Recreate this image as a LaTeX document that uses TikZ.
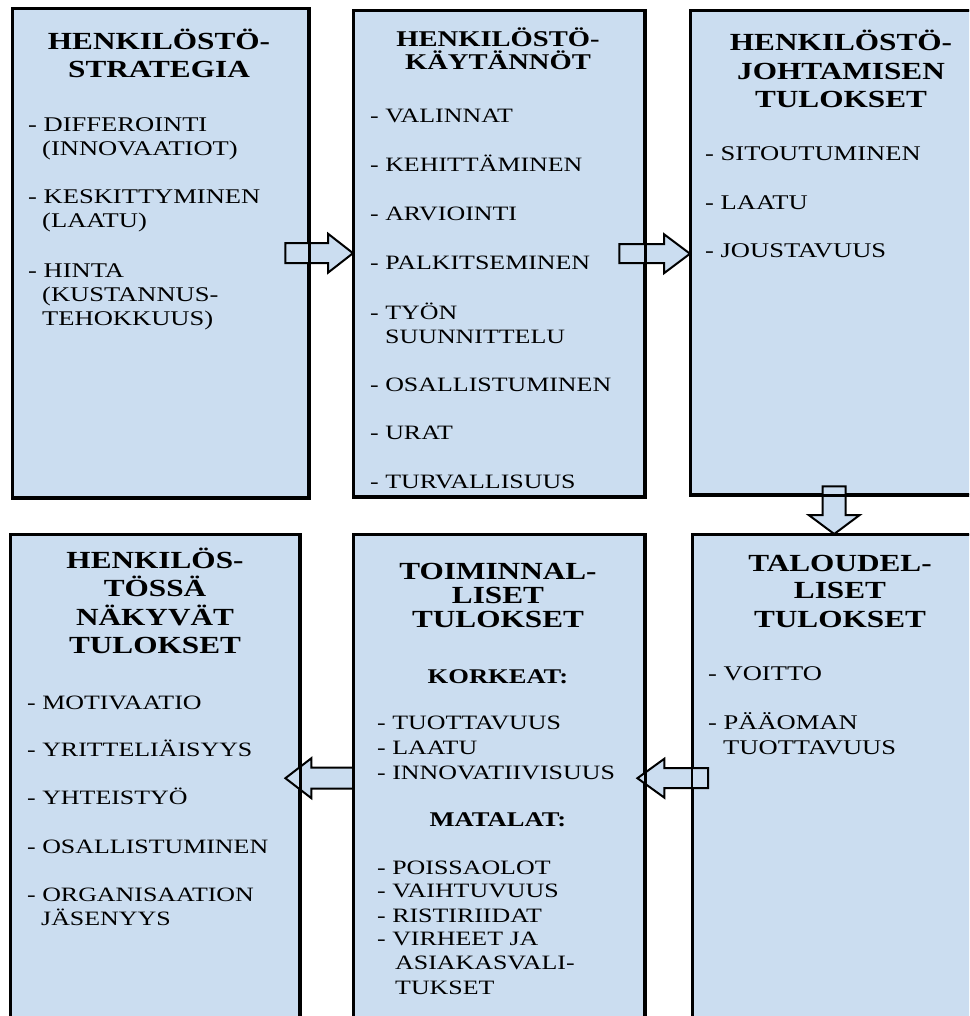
\documentclass[tikz,border=0pt]{standalone}
\usepackage{fontspec}
\setmainfont{Liberation Serif}[FakeStretch=1.27]
\usetikzlibrary{calc}

\definecolor{boxfill}{RGB}{203,221,240}

\tikzset{
  box/.style={draw=black, line width=2.4pt, fill=boxfill, inner sep=0pt, anchor=north west},
  border/.style={draw=black, line width=2.4pt},
  arrowbody/.style={draw=black, line width=2pt, fill=boxfill, line join=miter},
  title/.style={anchor=base, inner sep=0pt, font=\bfseries\fontsize{24.6}{28}\selectfont},
  smalltitle/.style={anchor=base, inner sep=0pt, font=\bfseries\fontsize{22.5}{26}\selectfont},
  subhead/.style={anchor=base, inner sep=0pt, font=\bfseries\fontsize{20.9}{24}\selectfont},
  body/.style={anchor=base west, inner sep=0pt, font=\fontsize{20.9}{24}\selectfont},
  smallbody/.style={anchor=base west, inner sep=0pt, font=\fontsize{20.4}{24}\selectfont},
}

% block arrow: start, tip, shaft half-width, head half-width, head length
\newcommand\blockarrow[5]{%
  \coordinate (ba-s) at (#1);
  \coordinate (ba-e) at (#2);
  \coordinate (ba-h) at ($(ba-e)!#5!(ba-s)$);
  \draw[arrowbody]
    ($(ba-s)!#3!90:(ba-e)$) -- ($(ba-h)!#3!90:(ba-e)$) --
    ($(ba-h)!#4!90:(ba-e)$) -- (ba-e) --
    ($(ba-h)!#4!-90:(ba-e)$) -- ($(ba-h)!#3!-90:(ba-e)$) --
    ($(ba-s)!#3!-90:(ba-e)$) -- cycle;
}

\begin{document}
\begin{tikzpicture}[x=1pt, y=-1pt]
\useasboundingbox (0,0) rectangle (969,1016);
\clip (0,0) rectangle (969,1016);

% boxes
\node[box, minimum width=295pt, minimum height=488pt] (b1) at (12,8) {};
\node[box, minimum width=290pt, minimum height=485pt] (b2) at (353,10) {};
\node[box, minimum width=300pt, minimum height=483pt] (b3) at (690,10) {};
\node[box, minimum width=288pt, minimum height=486pt] (b4) at (10,534) {};
\node[box, minimum width=290pt, minimum height=486pt] (b5) at (353,534) {};
\node[box, minimum width=298pt, minimum height=486pt] (b6) at (692,534) {};

% block arrows between the boxes
\blockarrow{[xshift=-24pt]b1.east}{b2.west |- b1.east}{10pt}{19.5pt}{25pt}
\blockarrow{[xshift=-26pt]b2.east}{b3.west |- b2.east}{9.5pt}{19.5pt}{26pt}
\coordinate (a3s) at ([shift={(-7pt,9pt)}]b3.south);
\blockarrow{a3s}{a3s |- b6.north}{11.5pt}{25.5pt}{19pt}
\blockarrow{[xshift=16pt]b6.west}{[xshift=-8pt]b5.east}{10pt}{19.5pt}{27pt}
\blockarrow{b5.west}{[xshift=-15pt]b4.east}{10.5pt}{20pt}{26pt}

% box outlines stay on top of the arrows
\foreach \b in {b1,b2,b3,b4,b5,b6}
  \draw[border] (\b.south west) rectangle (\b.north east);

% box 1
\node[title] (b1h1) at (159,50) {HENKILÖSTÖ-};
\node[title] (b1h2) at (159,78) {STRATEGIA};
\foreach \xx/\yy/\txt [count=\i] in {
  28/132/- DIFFEROINTI, 42/156/(INNOVAATIOT),
  28/204/- KESKITTYMINEN, 42/228/(LAATU),
  28/277/- HINTA, 42/301/(KUSTANNUS-, 42/325/TEHOKKUUS)}
  \node[body] (b1t\i) at (\xx,\yy) {\txt};

% box 2
\node[smalltitle] (b2h1) at (498,47) {HENKILÖSTÖ-};
\node[smalltitle] (b2h2) at (498,70) {KÄYTÄNNÖT};
\foreach \xx/\yy/\txt [count=\i] in {
  370/123/- VALINNAT, 370/172/- KEHITTÄMINEN, 370/221/- ARVIOINTI,
  370/269/- PALKITSEMINEN, 370/319/- TYÖN, 385/343/SUUNNITTELU,
  370/391/- OSALLISTUMINEN, 370/439/- URAT, 370/488/- TURVALLISUUS}
  \node[smallbody] (b2t\i) at (\xx,\yy) {\txt};

% box 3
\node[title] (b3h1) at (841,51) {HENKILÖSTÖ-};
\node[title] (b3h2) at (841,80) {JOHTAMISEN};
\node[title] (b3h3) at (841,108) {TULOKSET};
\foreach \xx/\yy/\txt [count=\i] in {
  705/161/- SITOUTUMINEN, 705/210/- LAATU, 705/258/- JOUSTAVUUS}
  \node[body] (b3t\i) at (\xx,\yy) {\txt};

% box 4
\node[title] (b4h1) at (155,568) {HENKILÖS-};
\node[title] (b4h2) at (155,596) {TÖSSÄ};
\node[title] (b4h3) at (155,625) {NÄKYVÄT};
\node[title] (b4h4) at (155,653) {TULOKSET};
\foreach \xx/\yy/\txt [count=\i] in {
  27/709/- MOTIVAATIO, 27/756/- YRITTELIÄISYYS, 27/804/- YHTEISTYÖ,
  27/853/- OSALLISTUMINEN, 27/901/- ORGANISAATION, 41/925/JÄSENYYS}
  \node[smallbody] (b4t\i) at (\xx,\yy) {\txt};

% box 5
\node[title] (b5h1) at (498,579) {TOIMINNAL-};
\node[title] (b5h2) at (498,603) {LISET};
\node[title] (b5h3) at (498,627) {TULOKSET};
\node[subhead] (b5s1) at (498,683) {KORKEAT:};
\node[subhead] (b5s2) at (498,826) {MATALAT:};
\foreach \xx/\yy/\txt [count=\i] in {
  377/729/- TUOTTAVUUS, 377/754/- LAATU, 377/779/- INNOVATIIVISUUS,
  377/874/- POISSAOLOT, 377/897/- VAIHTUVUUS, 377/922/- RISTIRIIDAT,
  377/945/- VIRHEET JA, 395/969/ASIAKASVALI-, 395/994/TUKSET}
  \node[smallbody] (b5t\i) at (\xx,\yy) {\txt};

% box 6
\node[title] (b6h1) at (840,571) {TALOUDEL-};
\node[title] (b6h2) at (840,598) {LISET};
\node[title] (b6h3) at (840,627) {TULOKSET};
\foreach \xx/\yy/\txt [count=\i] in {
  708/680/- VOITTO, 708/729/- PÄÄOMAN, 723/754/TUOTTAVUUS}
  \node[body] (b6t\i) at (\xx,\yy) {\txt};
\end{tikzpicture}
\end{document}
